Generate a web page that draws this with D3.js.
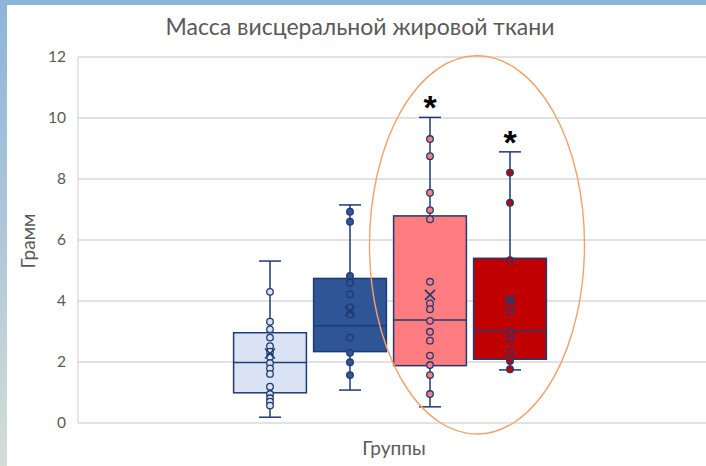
<!DOCTYPE html>
<html>
<head>
<meta charset="utf-8">
<script src="https://cdn.jsdelivr.net/npm/d3@7"></script>
<style>
  html, body { margin: 0; padding: 0; background: #fff; }
  svg { display: block; }
</style>
</head>
<body>
<svg id="chart" width="706" height="466"></svg>
<script>
// Groups of the box-and-whisker chart
const groups = ["Группа 1", "Группа 2", "Группа 3", "Группа 4"];
const fills = ["#dae3f3", "#2f5597", "#ff7c80", "#c00000"];

// Box statistics per group
const whiskerLow  = [0.19, 1.08, 0.53, 1.74];
const q1          = [0.99, 2.34, 1.88, 2.09];
const median      = [1.98, 3.19, 3.38, 3.03];
const q3          = [2.96, 4.74, 6.79, 5.40];
const whiskerHigh = [5.31, 7.15, 10.02, 8.89];
const means       = [2.28, 3.67, 4.20, 4.03];

// Individual observations per group
const points1 = [4.30, 3.32, 3.07, 2.80, 2.52, 2.34, 2.17, 1.96, 1.79, 1.61, 1.19, 0.95, 0.81, 0.70, 0.57];
const points2 = [6.93, 6.60, 4.82, 4.60, 4.22, 3.79, 3.56, 2.80, 2.30, 1.99, 1.57];
const points3 = [9.31, 8.75, 7.55, 6.98, 6.68, 4.63, 3.92, 3.73, 3.35, 2.99, 2.70, 2.21, 1.90, 1.57, 0.95];
const points4 = [8.21, 7.22, 5.34, 4.03, 3.67, 2.99, 2.75, 2.30, 2.03, 1.76];
const pointSets = [points1, points2, points3, points4];

// Groups marked as significant
const significant = [false, false, true, true];

const yTicks = [0, 2, 4, 6, 8, 10, 12];

const title = "Масса висцеральной жировой ткани";
const yTitle = "Грамм";
const xTitle = "Группы";

const svg = d3.select("#chart");
const W = 706, H = 466;
const plot = { left: 78, right: 706, top: 57, bottom: 423 };
const navy = "#1f3b73";
const textGray = "#595959";
const font = "Lato, 'Open Sans', sans-serif";

// Frame strips
const defs = svg.append("defs");
const grad = defs.append("linearGradient").attr("id", "edge").attr("x1", 0).attr("y1", 0).attr("x2", 0).attr("y2", 1);
grad.append("stop").attr("offset", "0%").attr("stop-color", "#8db4d9");
grad.append("stop").attr("offset", "55%").attr("stop-color", "#b3c9da");
grad.append("stop").attr("offset", "100%").attr("stop-color", "#d3ddd5");
svg.append("rect").attr("x", 0).attr("y", 0).attr("width", W).attr("height", H).attr("fill", "#fff");
svg.append("rect").attr("x", 0).attr("y", 0).attr("width", 7).attr("height", H).attr("fill", "url(#edge)");
svg.append("rect").attr("x", 0).attr("y", 0).attr("width", W).attr("height", 5).attr("fill", "#8db4d9");

const y = d3.scaleLinear().domain([0, 12]).range([plot.bottom, plot.top]);
const x = d3.scaleBand().domain(groups).range([230, 550]).paddingInner(0.09).paddingOuter(0.045);

// Gridlines
svg.append("g").selectAll("line").data(yTicks).join("line")
  .attr("x1", plot.left).attr("x2", plot.right)
  .attr("y1", d => y(d)).attr("y2", d => y(d))
  .attr("stroke", "#d9d9d9").attr("stroke-width", 1.3);

// Vertical axis line
svg.append("line").attr("x1", plot.left).attr("x2", plot.left)
  .attr("y1", plot.top).attr("y2", plot.bottom)
  .attr("stroke", "#d9d9d9").attr("stroke-width", 1.3);

// Tick labels
const yAxis = d3.axisLeft(y).tickValues(yTicks).tickSize(0).tickPadding(12);
const ga = svg.append("g").attr("transform", `translate(${plot.left},0)`).call(yAxis);
ga.select(".domain").remove();
ga.selectAll("text").attr("fill", textGray).attr("font-family", font).attr("font-size", 15.5);

// Boxes
const bw = x.bandwidth();
const capW = 22;
groups.forEach((g, i) => {
  const cx = x(g) + bw / 2;
  const gg = svg.append("g");
  // whiskers
  gg.append("line").attr("x1", cx).attr("x2", cx).attr("y1", y(whiskerHigh[i])).attr("y2", y(q3[i]))
    .attr("stroke", navy).attr("stroke-width", 1.5);
  gg.append("line").attr("x1", cx).attr("x2", cx).attr("y1", y(q1[i])).attr("y2", y(whiskerLow[i]))
    .attr("stroke", navy).attr("stroke-width", 1.5);
  [whiskerHigh[i], whiskerLow[i]].forEach(v => {
    gg.append("line").attr("x1", cx - capW / 2).attr("x2", cx + capW / 2).attr("y1", y(v)).attr("y2", y(v))
      .attr("stroke", navy).attr("stroke-width", 1.5);
  });
  // box
  gg.append("rect").attr("x", x(g)).attr("width", bw)
    .attr("y", y(q3[i])).attr("height", y(q1[i]) - y(q3[i]))
    .attr("fill", fills[i]).attr("stroke", navy).attr("stroke-width", 1.5);
  // median
  gg.append("line").attr("x1", x(g)).attr("x2", x(g) + bw).attr("y1", y(median[i])).attr("y2", y(median[i]))
    .attr("stroke", navy).attr("stroke-width", 1.5);
  // points
  gg.selectAll("circle").data(pointSets[i]).join("circle")
    .attr("cx", cx).attr("cy", d => y(d)).attr("r", 3.3)
    .attr("fill", fills[i]).attr("stroke", navy).attr("stroke-width", 1.3);
  // mean marker
  const m = y(means[i]), s = 5;
  gg.append("path").attr("d", `M${cx - s},${m - s}L${cx + s},${m + s}M${cx - s},${m + s}L${cx + s},${m - s}`)
    .attr("stroke", navy).attr("stroke-width", 1.6).attr("fill", "none");
  // significance mark
  if (significant[i]) {
    svg.append("text").attr("x", cx).attr("y", y(whiskerHigh[i]) + 2)
      .attr("text-anchor", "middle").attr("font-family", "'Liberation Sans', Arial, sans-serif")
      .attr("font-weight", "bold").attr("font-size", 34).attr("fill", "#000").text("*");
  }
});

// Highlight ellipse around groups 3 and 4
const c3 = x(groups[2]) + bw / 2, c4 = x(groups[3]) + bw / 2;
svg.append("ellipse")
  .attr("cx", (c3 + c4) / 2 + 7).attr("cy", y(5.84))
  .attr("rx", 107.5).attr("ry", y(0) - y(6.2))
  .attr("fill", "none").attr("stroke", "#f0a36b").attr("stroke-width", 1.4);

// Titles
svg.append("text").attr("x", 360).attr("y", 35).attr("text-anchor", "middle")
  .attr("font-family", font).attr("font-size", 23).attr("fill", textGray).text(title);
svg.append("text").attr("transform", `translate(35,241) rotate(-90)`).attr("text-anchor", "middle")
  .attr("font-family", font).attr("font-size", 19).attr("fill", textGray).text(yTitle);
svg.append("text").attr("x", 394).attr("y", 455).attr("text-anchor", "middle")
  .attr("font-family", font).attr("font-size", 19).attr("fill", textGray).text(xTitle);
</script>
</body>
</html>
